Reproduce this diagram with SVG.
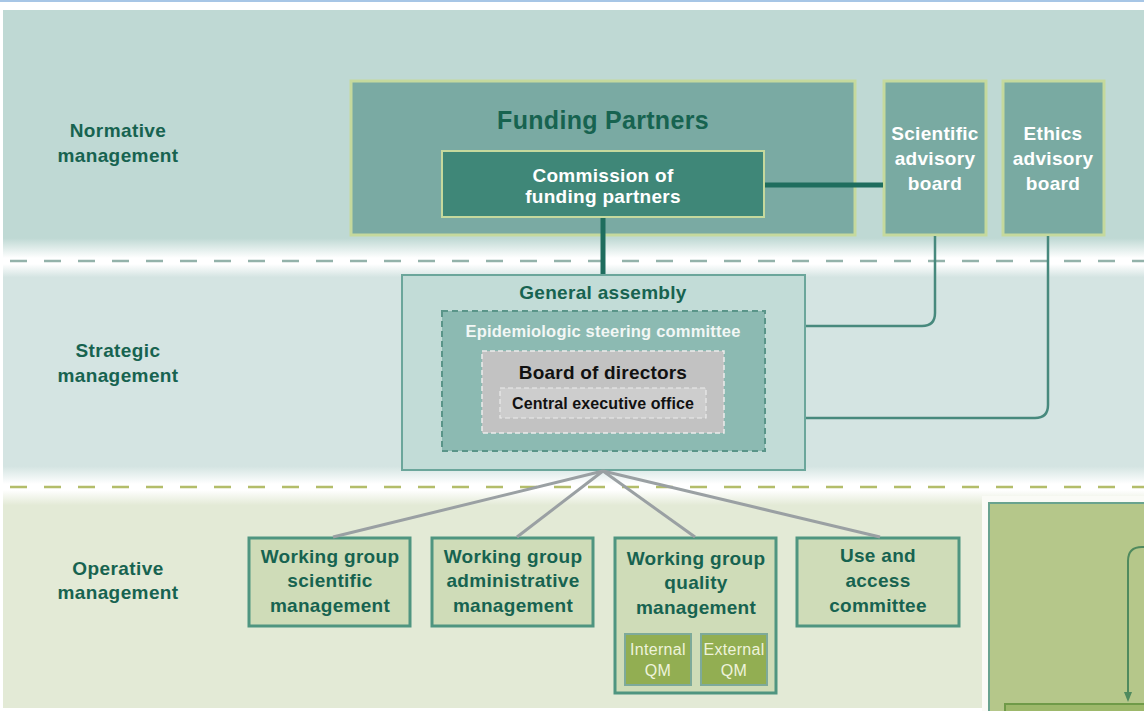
<svg xmlns="http://www.w3.org/2000/svg" width="1144" height="711" viewBox="0 0 1144 711">
<defs>
<style>
.b{font-family:"Liberation Sans",Arial,sans-serif;font-weight:bold;text-anchor:middle}
.lbl{font-size:19px;letter-spacing:0.4px;fill:#176350}
.w{font-size:19px;letter-spacing:0.3px;fill:#ffffff}
.dk{font-size:19px;letter-spacing:0.3px;fill:#176350}
.qm{font-family:"Liberation Sans",Arial,sans-serif;font-size:16px;letter-spacing:0.3px;fill:#eef3dc;text-anchor:middle}
.wg{fill:#cfdcb8;stroke:#4f9580;stroke-width:3}
.qmb{fill:#92ae52;stroke:#7eaa9a;stroke-width:2}
.adv{fill:#79aaa2;stroke:#c5d99d;stroke-width:3}
.fan{stroke:#9aa0a3;stroke-width:3;fill:none}
.ac{stroke:#47897d;stroke-width:2.5;fill:none}
.thick{stroke:#1f6d5e;stroke-width:5;fill:none}
</style>
<linearGradient id="g1" x1="0" y1="0" x2="0" y2="1">
<stop offset="0" stop-color="#bfd9d4"/><stop offset="0.92" stop-color="#bfd9d4"/><stop offset="1" stop-color="#ffffff"/>
</linearGradient>
<linearGradient id="g2" x1="0" y1="0" x2="0" y2="1">
<stop offset="0" stop-color="#ffffff"/><stop offset="0.06" stop-color="#d4e4e2"/><stop offset="0.92" stop-color="#d4e4e2"/><stop offset="1" stop-color="#ffffff"/>
</linearGradient>
<linearGradient id="g3" x1="0" y1="0" x2="0" y2="1">
<stop offset="0" stop-color="#ffffff"/><stop offset="0.07" stop-color="#e3ead6"/><stop offset="1" stop-color="#e3ead6"/>
</linearGradient>
<marker id="arr" markerWidth="10" markerHeight="8" refX="5" refY="4" orient="auto" markerUnits="userSpaceOnUse" viewBox="0 0 10 8">
<path d="M0,0 L10,4 L0,8 Z" fill="#4f8a5e"/>
</marker>
</defs>

<!-- background -->
<rect x="0" y="0" width="1144" height="711" fill="#ffffff"/>
<rect x="0" y="0" width="1144" height="2" fill="#a7c6e6"/>
<rect x="3" y="10" width="1141" height="248" fill="url(#g1)"/>
<rect x="3" y="264" width="1141" height="220" fill="url(#g2)"/>
<rect x="3" y="490" width="1141" height="218" fill="url(#g3)"/>
<line x1="10" y1="261" x2="1144" y2="261" stroke="#93b2aa" stroke-width="2.5" stroke-dasharray="17 17"/>
<line x1="10" y1="487" x2="1144" y2="487" stroke="#b3bd6a" stroke-width="2.5" stroke-dasharray="17 17"/>

<!-- level labels -->
<g id="label-normative"><text class="b lbl" x="118" y="137">Normative</text><text class="b lbl" x="118" y="162">management</text></g>
<g id="label-strategic"><text class="b lbl" x="118" y="357">Strategic</text><text class="b lbl" x="118" y="382">management</text></g>
<g id="label-operative"><text class="b lbl" x="118" y="575">Operative</text><text class="b lbl" x="118" y="599">management</text></g>

<!-- normative -->
<g id="funding-partners">
<rect x="351" y="81" width="504" height="154" fill="#7aaaa3" stroke="#c5d99d" stroke-width="3"/>
<text class="b" x="603" y="129" font-size="25" letter-spacing="0.3" fill="#176350">Funding Partners</text>
</g>
<g id="commission">
<rect x="442" y="151" width="322" height="66" fill="#3f8778" stroke="#c5d99d" stroke-width="2"/>
<text class="b w" x="603" y="182">Commission of</text>
<text class="b w" x="603" y="203">funding partners</text>
</g>
<g id="scientific-advisory-board">
<rect class="adv" x="884" y="81" width="102" height="154"/>
<text class="b w" x="935" y="140">Scientific</text>
<text class="b w" x="935" y="165">advisory</text>
<text class="b w" x="935" y="190">board</text>
</g>
<g id="ethics-advisory-board">
<rect class="adv" x="1003" y="81" width="101" height="154"/>
<text class="b w" x="1053" y="140">Ethics</text>
<text class="b w" x="1053" y="165">advisory</text>
<text class="b w" x="1053" y="190">board</text>
</g>

<!-- strategic -->
<g id="general-assembly">
<rect x="402" y="275" width="403" height="195" fill="#c2dcd7" stroke="#6ba69b" stroke-width="2"/>
<text class="b dk" x="603" y="299">General assembly</text>
</g>
<g id="steering-committee">
<rect x="442" y="311" width="323" height="140" fill="#8cbab2" stroke="#5a9589" stroke-width="2" stroke-dasharray="6 4"/>
<text class="b" x="603" y="337" font-size="16.5" letter-spacing="0.2" fill="#f2f7f5">Epidemiologic steering committee</text>
</g>
<g id="board-of-directors">
<rect x="482" y="351" width="242" height="82" fill="#c2c2c2" stroke="#ececec" stroke-width="1.5" stroke-dasharray="5 3"/>
<text class="b" x="603" y="379" font-size="19" letter-spacing="0.2" fill="#111111">Board of directors</text>
</g>
<g id="central-executive-office">
<rect x="500" y="388" width="206" height="30" fill="#cdcdcd" stroke="#ececec" stroke-width="1.2" stroke-dasharray="5 3"/>
<text class="b" x="603" y="409" font-size="16" letter-spacing="0.1" fill="#111111">Central executive office</text>
</g>

<!-- operative -->
<g id="wg-scientific">
<rect class="wg" x="249" y="538" width="161" height="88"/>
<text class="b dk" x="330" y="563">Working group</text>
<text class="b dk" x="330" y="587">scientific</text>
<text class="b dk" x="330" y="612">management</text>
</g>
<g id="wg-administrative">
<rect class="wg" x="432" y="538" width="161" height="88"/>
<text class="b dk" x="513" y="563">Working group</text>
<text class="b dk" x="513" y="587">administrative</text>
<text class="b dk" x="513" y="612">management</text>
</g>
<g id="wg-quality">
<rect class="wg" x="615" y="538" width="161" height="155"/>
<text class="b dk" x="696" y="565">Working group</text>
<text class="b dk" x="696" y="589">quality</text>
<text class="b dk" x="696" y="614">management</text>
</g>
<g id="internal-qm">
<rect class="qmb" x="625" y="634" width="66" height="51"/>
<text class="qm" x="658" y="655">Internal</text>
<text class="qm" x="658" y="676">QM</text>
</g>
<g id="external-qm">
<rect class="qmb" x="701" y="634" width="66" height="51"/>
<text class="qm" x="734" y="655">External</text>
<text class="qm" x="734" y="676">QM</text>
</g>
<g id="use-and-access">
<rect class="wg" x="797" y="538" width="162" height="88"/>
<text class="b dk" x="878" y="562">Use and</text>
<text class="b dk" x="878" y="587">access</text>
<text class="b dk" x="878" y="612">committee</text>
</g>

<!-- bottom-right partial panel -->
<g id="side-panel">
<rect x="982" y="496" width="170" height="220" fill="#fafbf6"/>
<rect x="989" y="503" width="170" height="220" fill="#b5c78a" stroke="#6aa38f" stroke-width="2"/>
<path d="M1150,547 H1142 Q1128,547 1128,561 V697" stroke="#4f8a5e" stroke-width="2" fill="none" marker-end="url(#arr)"/>
<rect x="1005" y="704" width="150" height="20" fill="#9db86a" stroke="#6f9a48" stroke-width="2"/>
</g>

<!-- connectors -->
<g id="connectors">
<line class="thick" x1="765" y1="185" x2="883" y2="185"/>
<line class="thick" x1="603" y1="218" x2="603" y2="274"/>
<path class="ac" d="M935,236 V313 Q935,326 922,326 H806"/>
<path class="ac" d="M1048,236 V405 Q1048,418 1035,418 H806"/>
<line class="fan" x1="603" y1="471" x2="333" y2="537"/>
<line class="fan" x1="603" y1="471" x2="517" y2="537"/>
<line class="fan" x1="603" y1="471" x2="695" y2="537"/>
<line class="fan" x1="603" y1="471" x2="880" y2="537"/>
</g>
</svg>
